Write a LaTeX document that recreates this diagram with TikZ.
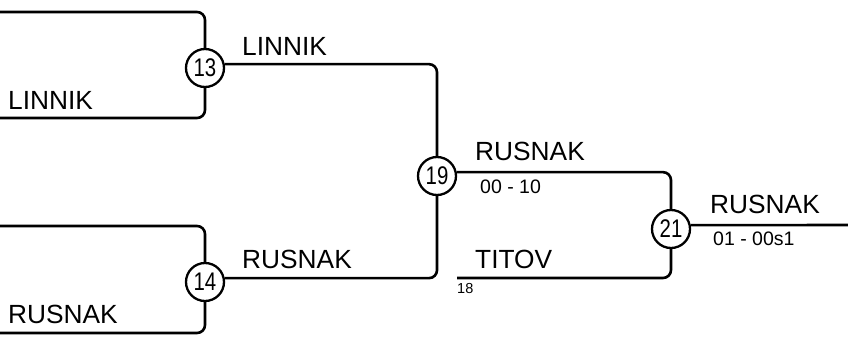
\documentclass[tikz,border=0pt]{standalone}
\usepackage{fontspec}
\usepackage{graphicx}
\setmainfont{Liberation Sans}
\newcommand{\seednum}[1]{\scalebox{0.8}[1]{#1}}
\begin{document}
\begin{tikzpicture}[x=1pt,y=-1pt,
  conn/.style={line width=2.6pt,rounded corners=8pt},
  seed/.style={circle,draw,line width=2.3pt,minimum size=38pt,inner sep=0pt,fill=white,font=\fontsize{25.5}{25.5}\selectfont},
  plname/.style={anchor=base west,inner sep=0pt,font=\fontsize{26.3}{26.3}\selectfont},
  score/.style={anchor=base west,inner sep=0pt,font=\fontsize{19.5}{19.5}\selectfont},
  small/.style={anchor=base west,inner sep=0pt,font=\fontsize{14.5}{14.5}\selectfont}]
\useasboundingbox (0,0) rectangle (848,338);
\coordinate (tl) at (-5,12);
\coordinate (bl) at (-5,118);
\coordinate (tl2) at (-5,226);
\coordinate (bl2) at (-5,333);
\coordinate (t18) at (457,278);
\coordinate (endr) at (852,225);
\node[seed] (c13) at (205,68) {\seednum{13}};
\node[seed] (c14) at (205,282) {\seednum{14}};
\node[seed] (c19) at (437,176) {\seednum{19}};
\node[seed] (c21) at (671,229) {\seednum{21}};
\draw[conn] (tl) -| (c13.north);
\draw[conn] (bl) -| (c13.south);
\draw[conn] (tl2) -| (c14.north);
\draw[conn] (bl2) -| (c14.south);
\draw[conn] (c13.11.5) -| (c19.north);
\draw[conn] (c14.11.5) -| (c19.south);
\draw[conn] (c19.11.5) -| (c21.north);
\draw[conn] (t18) -| (c21.south);
\draw[conn] (c21.11.5) -- (endr);
\node[plname] (n1) at (8,109) {LINNIK};
\node[plname] (n2) at (8,323) {RUSNAK};
\node[plname] (n3) at (242,55) {LINNIK};
\node[plname] (n4) at (242,268) {RUSNAK};
\node[plname] (n5) at (475,160) {RUSNAK};
\node[score] (s5) at (480,193) {00 - 10};
\node[plname] (n6) at (475,268) {TITOV};
\node[small] (s6) at (457,293) {18};
\node[plname] (n7) at (710,213) {RUSNAK};
\node[score] (s7) at (713,245) {01 - 00s1};
\end{tikzpicture}
\end{document}
